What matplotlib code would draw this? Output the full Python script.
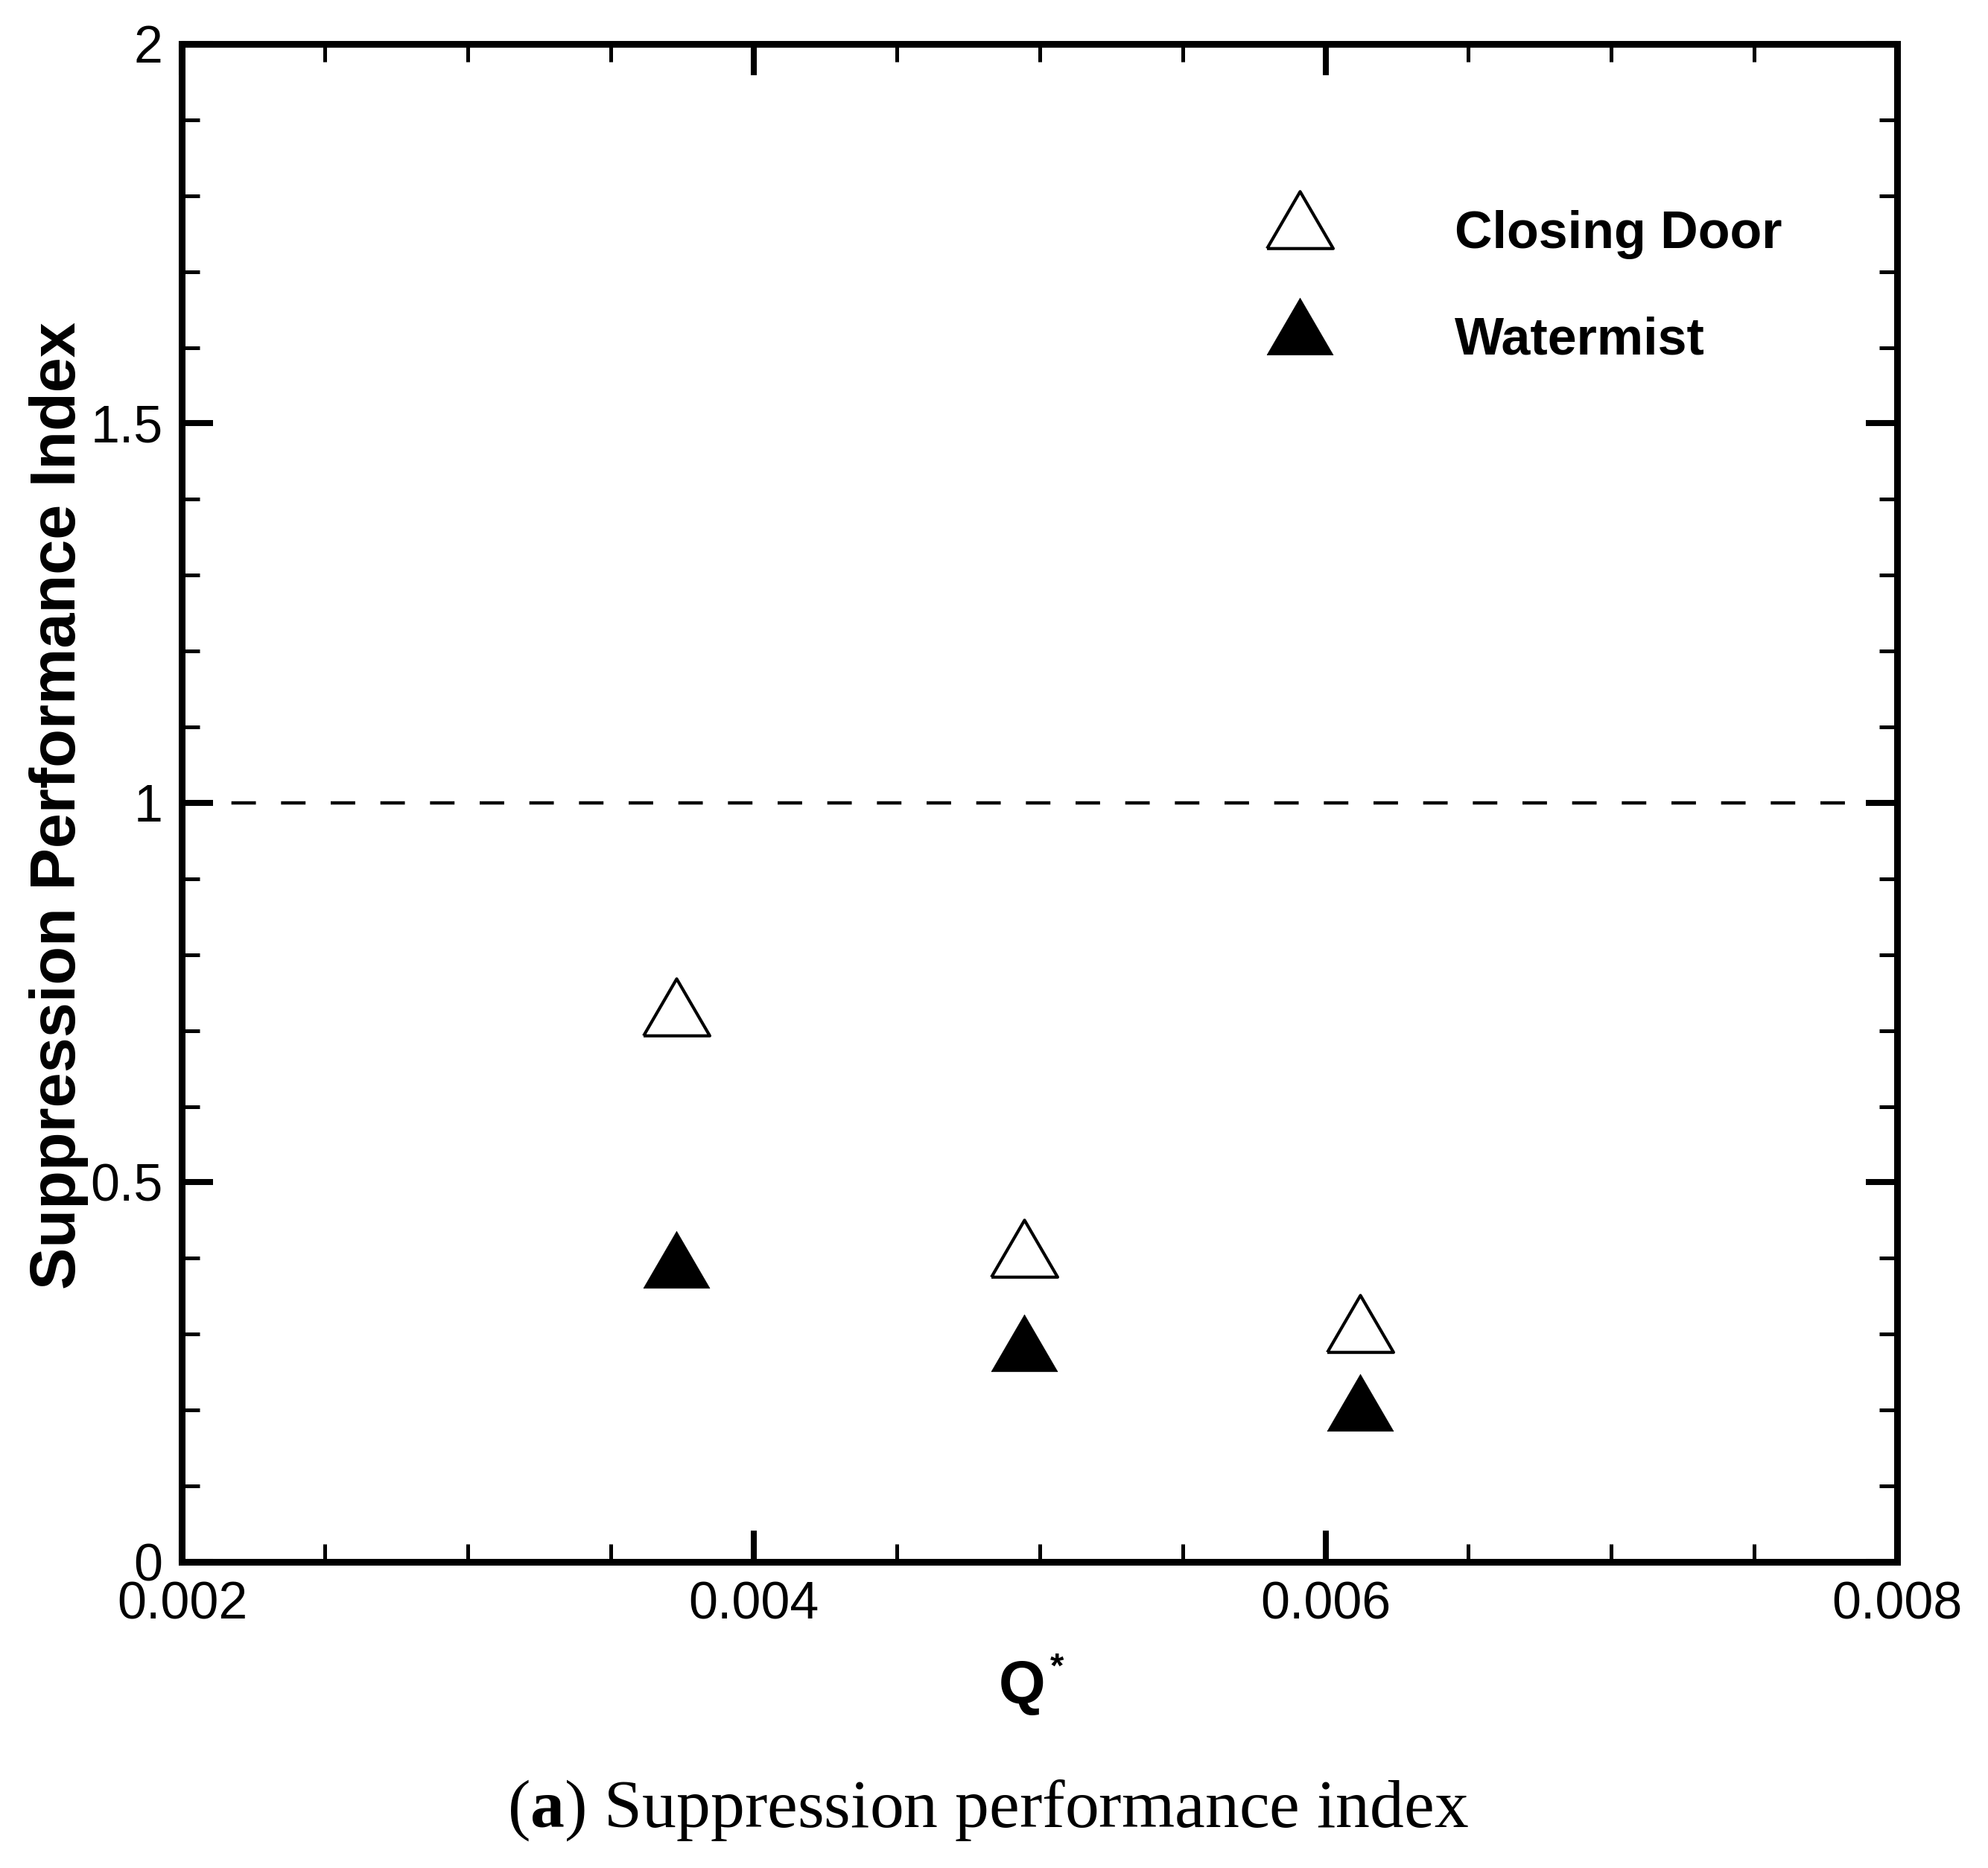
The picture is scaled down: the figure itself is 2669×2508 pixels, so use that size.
import numpy as np
import matplotlib
matplotlib.use("Agg")
import matplotlib.pyplot as plt
from matplotlib.lines import Line2D
from matplotlib.ticker import MultipleLocator, FormatStrFormatter

plt.rcParams['font.family'] = ['Liberation Sans', 'DejaVu Sans']
plt.rcParams['mathtext.fontset'] = 'custom'
plt.rcParams['mathtext.rm'] = 'Liberation Serif'
plt.rcParams['mathtext.bf'] = 'Liberation Serif:bold'

# data
q_star = [0.003728, 0.004945, 0.006120]
closing_door = [0.731, 0.413, 0.314]
watermist = [0.398, 0.2885, 0.210]
series_labels = ['Closing Door', 'Watermist']

x_ticks = [0.002, 0.004, 0.006, 0.008]
y_ticks = [0, 0.5, 1, 1.5, 2]

# slightly wide triangle marker
tri = [(-1.0, -0.86), (1.0, -0.86), (0.0, 0.86), (-1.0, -0.86)]

fig = plt.figure(figsize=(26.69, 25.08), dpi=100)
ax = fig.add_axes([0.0916, 0.1639, 0.9543 - 0.0916, 0.9765 - 0.1639])

ax.axhline(1.0, color='k', lw=3.2, linestyle=(0, (7.4, 7.6)), zorder=1)

ax.plot(q_star, closing_door, linestyle='none', marker=tri, markersize=64,
        markerfacecolor='white', markeredgecolor='k', markeredgewidth=3.0,
        zorder=3)
ax.plot(q_star, watermist, linestyle='none', marker=tri, markersize=64,
        markerfacecolor='k', markeredgecolor='k', markeredgewidth=0.5,
        zorder=3)

ax.set_xlim(x_ticks[0], x_ticks[-1])
ax.set_ylim(y_ticks[0], y_ticks[-1])
ax.set_xticks(x_ticks)
ax.set_yticks(y_ticks)
ax.xaxis.set_major_formatter(FormatStrFormatter('%g'))
ax.yaxis.set_major_formatter(FormatStrFormatter('%g'))
ax.xaxis.set_minor_locator(MultipleLocator(0.0005))
ax.yaxis.set_minor_locator(MultipleLocator(0.1))

ax.tick_params(which='both', direction='in', top=True, right=True,
               labelsize=50.4, pad=18.7)
ax.tick_params(which='major', length=30, width=5.8)
ax.tick_params(which='minor', length=17, width=3.6)
for sp in ax.spines.values():
    sp.set_linewidth(6.5)

# axis titles
ax.text(-0.0717, 0.498, 'Suppression Performance Index', rotation=90,
        ha='center', va='center', fontsize=61, fontweight='bold',
        transform=ax.transAxes)
ax.text(0.4898, -0.0932, 'Q', ha='center', va='baseline', fontsize=58,
        fontweight='bold', transform=ax.transAxes)
ax.text(0.510, -0.0761, '*', ha='center', va='baseline', fontsize=34,
        fontweight='bold', transform=ax.transAxes)

# legend
handles = [
    Line2D([], [], linestyle='none', marker=tri, markersize=64,
           markerfacecolor='white', markeredgecolor='k', markeredgewidth=3.0),
    Line2D([], [], linestyle='none', marker=tri, markersize=64,
           markerfacecolor='k', markeredgecolor='k', markeredgewidth=0.5),
]
ax.legend(handles, series_labels, loc='upper left',
          bbox_to_anchor=(0.6212, 0.9029), frameon=False,
          prop={'family': 'Liberation Sans', 'weight': 'bold', 'size': 50.4},
          handlelength=2.0, handleheight=1.99, handletextpad=1.97,
          labelspacing=0.5, borderpad=0, borderaxespad=0, numpoints=1)

# caption
fig.text(0.497, 0.0223, r'($\mathbf{a}$) Suppression performance index',
         ha='center', va='baseline', fontsize=66, family='Liberation Serif')

fig.savefig('out.png', dpi=100)
